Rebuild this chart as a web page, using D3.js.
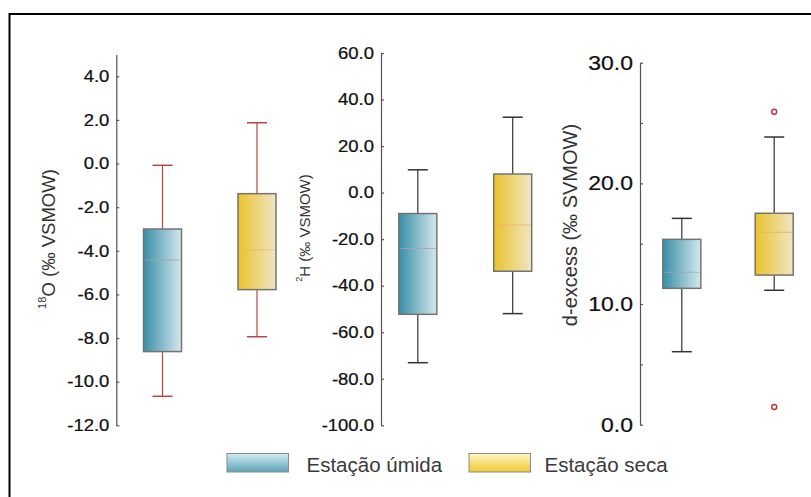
<!DOCTYPE html>
<html><head><meta charset="utf-8">
<script src="https://cdn.jsdelivr.net/npm/d3@7"></script>
<style>body{margin:0;background:#fff;} svg{display:block;font-family:"Liberation Sans",Arial,sans-serif;}</style>
</head><body>
<script>
// ---- data ----
const groups = ["Estação úmida", "Estação seca"];
// [min, q1, median, q3, max]
const d18O = [[-10.67, -8.62, -4.42, -3.0, -0.08], [-7.94, -5.78, -3.95, -1.38, 1.87]];
const d2H = [[-73.1, -52.3, -24.0, -9.0, 9.8], [-52.0, -33.8, -13.9, 8.0, 32.4]];
const dExcess = [[6.05, 11.3, 12.63, 15.36, 17.1], [11.14, 12.4, 15.94, 17.52, 23.84]];
const dExcessOutliers = [[], [25.93, 1.47]];
const ticks18O = [-12, -10, -8, -6, -4, -2, 0, 2, 4];
const ticks2H = [-100, -80, -60, -40, -20, 0, 20, 40, 60];
const ticksDex = [0, 5, 10, 15, 20, 25, 30];

const W = 811, H = 497;
const svg = d3.select("body").append("svg").attr("width", W).attr("height", H);
const defs = svg.append("defs");
function grad(id, c0, c1, vertical) {
  const g = defs.append("linearGradient").attr("id", id)
    .attr("x1", 0).attr("y1", 0).attr("x2", vertical ? 0 : 1).attr("y2", vertical ? 1 : 0);
  g.append("stop").attr("offset", "0%").attr("stop-color", c0);
  g.append("stop").attr("offset", "100%").attr("stop-color", c1);
}
grad("gWet", "#388ea7", "#d4e9ee", false);
grad("gDry", "#ebc22c", "#efe6c4", false);
grad("lWet", "#d4ecf2", "#5aa3b8", true);
grad("lDry", "#fff7c6", "#f2c832", true);
const fills = ["url(#gWet)", "url(#gDry)"];
const medColors = ["#ad9fb0", "#f0b070"];

// frame
svg.append("rect").attr("x", 9.5).attr("y", 14).attr("width", 830).attr("height", 520)
  .attr("fill", "none").attr("stroke", "#000").attr("stroke-width", 2);

const panels = [
  {data: d18O, out: [[], []], domain: [-12, 5], yr: [425.3, 54.5], ax: 116.3, xr: [162.5, 257],
   ticks: ticks18O, fmt: d => d3.format(".1f")(d).replace("−", "-"), fs: 16.5, whisk: "#b5474b",
   label: ["18", "O (‰ VSMOW)"], lx: 47.5, ly: 239, lfs: 18.5},
  {data: d2H, out: [[], []], domain: [-100, 60], yr: [425.3, 53], ax: 381, xr: [417.8, 512.7],
   ticks: ticks2H, fmt: d => d3.format(".1f")(d).replace("−", "-"), fs: 16.5, whisk: "#333",
   label: ["2", "H (‰ VSMOW)"], lx: 303.5, ly: 228, lfs: 15},
  {data: dExcess, out: dExcessOutliers, domain: [0, 30], yr: [424.7, 62.7], ax: 640, xr: [681.8, 774.2],
   ticks: ticksDex, fmt: d => d % 10 === 0 ? d3.format(".1f")(d) : "", fs: 20.5, whisk: "#333",
   label: [null, "d-excess (‰ SVMOW)"], lx: 570, ly: 225, lfs: 20}
];

const stretch = 1.12;
panels.forEach(p => {
  const y = d3.scaleLinear().domain(p.domain).range(p.yr);
  const x = d3.scalePoint().domain(groups).range(p.xr);
  const axis = d3.axisLeft(y).tickValues(p.ticks).tickFormat(p.fmt)
    .tickSizeInner(-3).tickSizeOuter(0).tickPadding(7);
  const g = svg.append("g").attr("transform", `translate(${p.ax},0)`).call(axis);
  g.select(".domain").attr("stroke", "#555").attr("stroke-width", 1.2);
  g.selectAll(".tick line").attr("stroke", "#555").attr("stroke-width", 1.2);
  g.selectAll(".tick text").attr("fill", "#111").attr("font-size", p.fs)
    .attr("font-family", "Liberation Sans, Arial, sans-serif")
    .attr("stroke", "#111").attr("stroke-width", 0.25)
    .attr("x", -7 / stretch).attr("transform", `scale(${stretch},1)`);

  const bw = 38, cw = 20;
  groups.forEach((grp, i) => {
    const [mn, q1, md, q3, mx] = p.data[i];
    const cx = x(grp);
    const bg = svg.append("g");
    bg.append("line").attr("x1", cx).attr("x2", cx).attr("y1", y(mx)).attr("y2", y(q3))
      .attr("stroke", p.whisk).attr("stroke-width", 1.2);
    bg.append("line").attr("x1", cx).attr("x2", cx).attr("y1", y(q1)).attr("y2", y(mn))
      .attr("stroke", p.whisk).attr("stroke-width", 1.2);
    [mx, mn].forEach(v => bg.append("line").attr("x1", cx - cw / 2).attr("x2", cx + cw / 2)
      .attr("y1", y(v)).attr("y2", y(v)).attr("stroke", p.whisk).attr("stroke-width", 1.5));
    bg.append("rect").attr("x", cx - bw / 2).attr("width", bw).attr("y", y(q3)).attr("height", y(q1) - y(q3))
      .attr("fill", fills[i]).attr("stroke", "#737373").attr("stroke-width", 1.5);
    bg.append("line").attr("x1", cx - bw / 2 + 1).attr("x2", cx + bw / 2 - 1).attr("y1", y(md)).attr("y2", y(md))
      .attr("stroke", medColors[i]).attr("stroke-width", 1.1).attr("stroke-opacity", 0.75);
    p.out[i].forEach(v => bg.append("circle").attr("cx", cx).attr("cy", y(v)).attr("r", 2.5)
      .attr("fill", "#fff").attr("stroke", "#b03a3a").attr("stroke-width", 1.4));
  });

  const t = svg.append("text").attr("transform", `translate(${p.lx},${p.ly}) rotate(-90)`)
    .attr("text-anchor", "middle").attr("dominant-baseline", "central")
    .attr("font-size", p.lfs).attr("fill", "#333");
  if (p.label[0]) t.append("tspan").attr("font-size", p.lfs * 0.6).attr("dy", -p.lfs * 0.3).text(p.label[0]);
  t.append("tspan").attr("dy", p.label[0] ? p.lfs * 0.3 : 0).text(p.label[1]);
});

// legend
const leg = [{x: 227, tx: 306.5, fill: "url(#lWet)"}, {x: 469, tx: 544.5, fill: "url(#lDry)"}];
groups.forEach((grp, i) => {
  svg.append("rect").attr("x", leg[i].x).attr("y", 453.5).attr("width", 61.5).attr("height", 18.5)
    .attr("fill", leg[i].fill).attr("stroke", "#8a8a8a").attr("stroke-width", 1);
  svg.append("text").attr("x", leg[i].tx).attr("y", 472).attr("font-size", 20.5).attr("fill", "#3a3a3a").text(grp);
});
</script>
</body></html>
